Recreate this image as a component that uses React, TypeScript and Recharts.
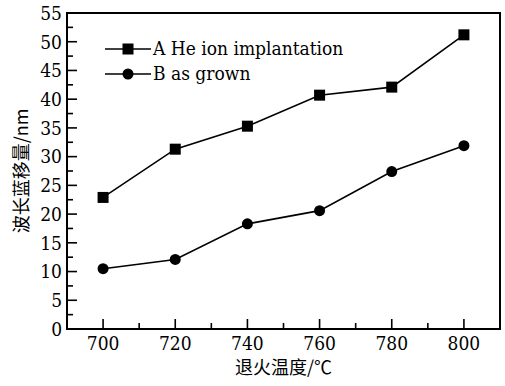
import React from 'react';
import {
  LineChart,
  Line,
  XAxis,
  YAxis,
  Legend,
  ReferenceArea,
} from 'recharts';

const temps = [700, 720, 740, 760, 780, 800];
const heImplant = [22.9, 31.3, 35.3, 40.7, 42.1, 51.2];
const asGrown = [10.5, 12.1, 18.3, 20.6, 27.4, 31.9];

const xTicks = [700, 710, 720, 730, 740, 750, 760, 770, 780, 790, 800];
const yTicks = [0, 2.5, 5, 7.5, 10, 12.5, 15, 17.5, 20, 22.5, 25, 27.5, 30, 32.5, 35, 37.5, 40, 42.5, 45, 47.5, 50, 52.5, 55];

const seriesNames = ['A He ion implantation', 'B as grown'];

const data = temps.map((t, i) => ({ t, a: heImplant[i], b: asGrown[i] }));

const SERIF = "'DejaVu Serif Condensed', 'DejaVu Serif'";
const CJK = "'Noto Sans CJK SC', 'DejaVu Serif'";
const X_MARGIN = 7;
const Y_MARGIN = 5;

const XTick = (props: any) => {
  const { x, y, payload } = props;
  const major = payload.value % 20 === 0;
  const axisY = y - X_MARGIN;
  return (
    <g>
      <line x1={x} x2={x} y1={axisY} y2={axisY - (major ? 10 : 6)} stroke="#000" strokeWidth={1.6} />
      {major && (
        <text x={x} y={y} dy="0.74em" textAnchor="middle" style={{ fontFamily: SERIF }} fontSize={19} fill="#000">
          {payload.value}
        </text>
      )}
    </g>
  );
};

const YTick = (props: any) => {
  const { x, y, payload } = props;
  const major = payload.value % 5 === 0;
  const axisX = x + Y_MARGIN;
  return (
    <g>
      <line x1={axisX} x2={axisX + (major ? 10 : 6)} y1={y} y2={y} stroke="#000" strokeWidth={1.6} />
      {major && (
        <text x={x} y={y} dy="0.36em" textAnchor="end" style={{ fontFamily: SERIF }} fontSize={19} fill="#000">
          {payload.value}
        </text>
      )}
    </g>
  );
};

const SquareDot = (props: any) => {
  const { cx, cy } = props;
  if (cx == null || cy == null) return null;
  return <rect x={cx - 5.5} y={cy - 5.5} width={11} height={11} fill="#000" />;
};

const renderLegend = () => (
  <div style={{ fontSize: 19, color: '#000', fontFamily: SERIF }}>
    {seriesNames.map((name, i) => (
      <div key={name} style={{ display: 'flex', alignItems: 'center', height: 25 }}>
        <svg width={48} height={24} style={{ display: 'block' }}>
          <line x1={0} x2={46} y1={12} y2={12} stroke="#000" strokeWidth={1.6} />
          {i === 0 ? (
            <rect x={17.5} y={6.5} width={11} height={11} fill="#000" />
          ) : (
            <circle cx={23} cy={12} r={5.5} fill="#000" />
          )}
        </svg>
        <span style={{ lineHeight: '25px' }}>{name}</span>
      </div>
    ))}
  </div>
);

export default function App() {
  return (
    <div style={{ position: 'absolute', left: 0, top: 0, width: 505, height: 386, background: '#fff' }}>
      <LineChart width={505} height={386} data={data} margin={{ top: 13, right: 5, left: 0, bottom: 0 }}>
        <XAxis
          dataKey="t"
          type="number"
          domain={[690, 810]}
          ticks={xTicks}
          interval={0}
          allowDataOverflow
          height={57}
          tickSize={0}
          tickMargin={X_MARGIN}
          tickLine={false}
          tick={<XTick />}
          axisLine={{ stroke: '#000', strokeWidth: 2 }}
          label={{
            value: '退火温度/℃',
            position: 'insideBottom',
            offset: 12,
            style: { fontFamily: CJK, fontSize: 18, fill: '#000' },
          }}
        />
        <YAxis
          type="number"
          domain={[0, 55]}
          ticks={yTicks}
          interval={0}
          allowDataOverflow
          width={67}
          tickSize={0}
          tickMargin={Y_MARGIN}
          tickLine={false}
          tick={<YTick />}
          axisLine={{ stroke: '#000', strokeWidth: 2 }}
          label={{
            value: '波长蓝移量/nm',
            angle: -90,
            position: 'insideLeft',
            offset: 22,
            style: { fontFamily: CJK, fontSize: 18, fill: '#000', textAnchor: 'middle' },
          }}
        />
        <ReferenceArea x1={690} x2={810} y1={0} y2={55} fill="none" stroke="#000" strokeWidth={2} />
        <Legend
          layout="vertical"
          align="center"
          verticalAlign="middle"
          wrapperStyle={{ left: 105, top: 36, width: 'auto' }}
          content={renderLegend}
        />
        <Line
          type="linear"
          dataKey="a"
          name={seriesNames[0]}
          stroke="#000"
          strokeWidth={1.6}
          dot={<SquareDot />}
          isAnimationActive={false}
        />
        <Line
          type="linear"
          dataKey="b"
          name={seriesNames[1]}
          stroke="#000"
          strokeWidth={1.6}
          dot={{ r: 5.5, fill: '#000', stroke: 'none' }}
          isAnimationActive={false}
        />
      </LineChart>
    </div>
  );
}
